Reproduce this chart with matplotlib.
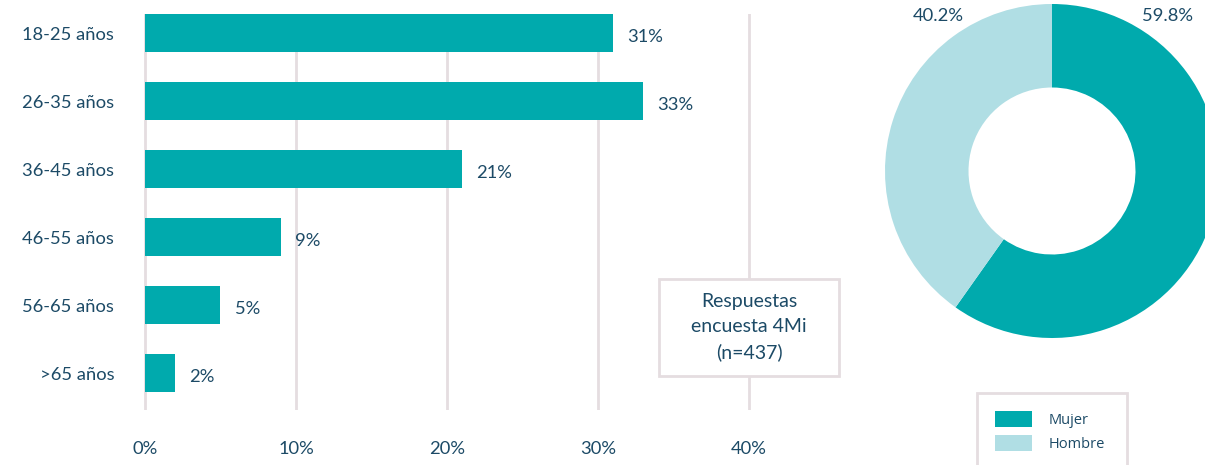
import matplotlib
matplotlib.use('Agg')
import matplotlib.pyplot as plt
from matplotlib.patches import Rectangle, Patch

edades = ['18-25 años', '26-35 años', '36-45 años', '46-55 años', '56-65 años', '>65 años']
porcentajes = [31, 33, 21, 9, 5, 2]
xticks = [0, 10, 20, 30, 40]
sexo = ['Mujer', 'Hombre']
sexo_pct = [59.8, 40.2]

teal = '#00aaad'
celeste = '#b0dee4'
txt = '#1c4a66'
grid = '#e5dde0'

plt.rcParams['font.family'] = ['Lato', 'DejaVu Sans']
W, H = 1205, 465
fig = plt.figure(figsize=(W / 100, H / 100), dpi=100)

# barras por edad
ax = fig.add_axes([140 / W, 1 - 410 / H, 614 / W, 396 / H])
ypos = list(range(len(edades)))
ax.barh(ypos, porcentajes, height=0.56, color=teal, zorder=3)
for y, v in zip(ypos, porcentajes):
    ax.text(v + 0.95, y + 0.03, f'{v}%', va='center_baseline', ha='left', color=txt, fontsize=13.2)
ax.set_xlim(-0.331, 40.331)
ax.set_ylim(5.54, -0.28)
ax.set_yticks(ypos)
ax.set_yticklabels(edades)
ax.set_xticks(xticks)
ax.set_xticklabels([f'{t}%' for t in xticks])
ax.tick_params(axis='both', length=0, colors=txt, labelsize=13.2)
ax.tick_params(axis='y', pad=18.5)
ax.tick_params(axis='x', pad=22)
for s in ax.spines.values():
    s.set_visible(False)
ax.grid(axis='x', color=grid, linewidth=2, zorder=0)
ax.set_axisbelow(True)

# recuadro de respuestas
ax.add_patch(Rectangle((34.04, 3.62), 11.92, 1.42, facecolor='white',
                       edgecolor=grid, linewidth=2, clip_on=False, zorder=4))
ax.text(40, 4.32, 'Respuestas\nencuesta 4Mi\n(n=437)', ha='center', va='center',
        color=txt, fontsize=14, linespacing=1.58, zorder=5)

# donut por sexo
ax2 = fig.add_axes([885 / W, 1 - 338 / H, 334 / W, 334 / H])
ax2.pie(sexo_pct, colors=[teal, celeste], startangle=90, counterclock=False,
        radius=1, wedgeprops=dict(width=0.5, linewidth=0))
ax2.set_xlim(-1, 1)
ax2.set_ylim(-1, 1)
ax2.text(0.69, 0.93, f'{sexo_pct[0]}%', ha='center', va='center', color=txt, fontsize=13.2)
ax2.text(-0.68, 0.93, f'{sexo_pct[1]}%', ha='center', va='center', color=txt, fontsize=13.2)

handles = [Patch(facecolor=teal, edgecolor='none'), Patch(facecolor=celeste, edgecolor='none')]
leg = fig.legend(handles, sexo, loc='upper left', bbox_to_anchor=(977 / W, 0, 150 / W, 1 - 393 / H),
                 mode='expand', fancybox=False, edgecolor=grid, framealpha=1,
                 prop={'family': ['Open Sans', 'DejaVu Sans'], 'size': 10.5},
                 handlelength=2.55, handleheight=1.25, handletextpad=1.1,
                 labelspacing=0.5, borderpad=1.25, borderaxespad=0)
leg.get_frame().set_linewidth(2)
for t in leg.get_texts():
    t.set_color(txt)

fig.savefig('out.png', dpi=100)
